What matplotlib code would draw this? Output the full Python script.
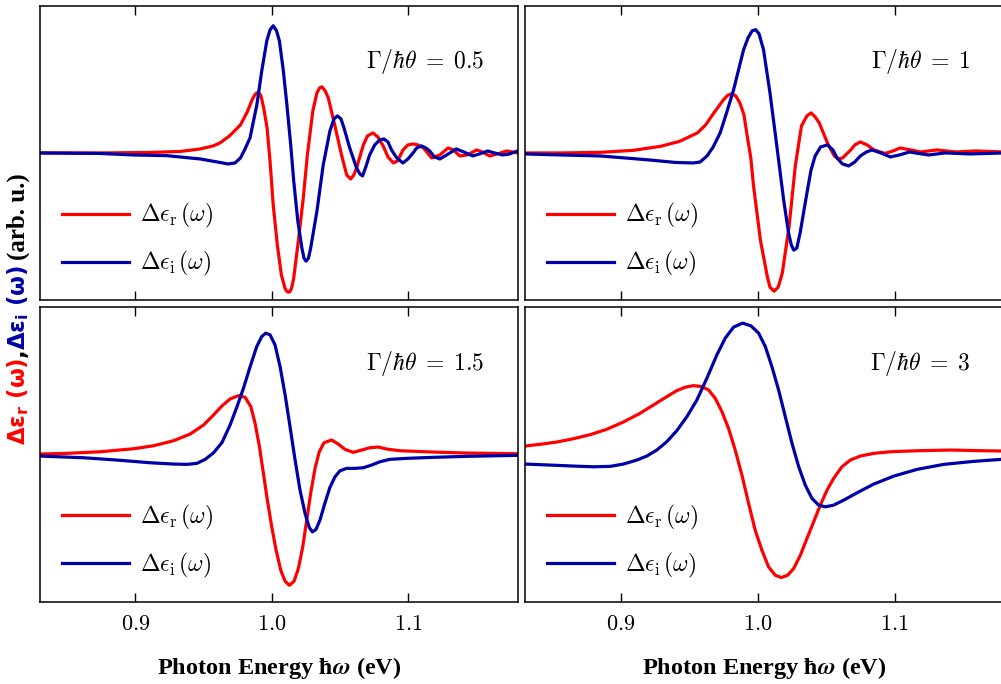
import matplotlib
matplotlib.use("Agg")
import matplotlib.pyplot as plt

plt.rcParams['mathtext.fontset'] = 'cm'

# ---- data (photon energy in eV, response in arb. units) ----
# panel 1: Gamma/hbar theta = 0.5
x_r1 = [0.830, 0.874, 0.911, 0.933, 0.9475, 0.957, 0.962, 0.969, 0.977, 0.982, 0.9855, 0.9875,
        0.989, 0.9905, 0.992, 0.994, 0.9965, 0.9987, 1.001, 1.004, 1.007, 1.0096, 1.0108, 1.012,
        1.0132, 1.0144, 1.016, 1.019, 1.023, 1.026, 1.030, 1.033, 1.035, 1.0367, 1.039, 1.0413,
        1.046, 1.051, 1.0548, 1.0577, 1.060, 1.062, 1.067, 1.070, 1.074, 1.0776, 1.0815, 1.085,
        1.089, 1.092, 1.096, 1.0996, 1.1034, 1.107, 1.111, 1.117, 1.123, 1.129, 1.133, 1.1376,
        1.143, 1.150, 1.154, 1.1595, 1.165, 1.172, 1.180]
y_r1 = [0.00, 0.00, 0.005, 0.015, 0.04, 0.07, 0.10, 0.17, 0.28, 0.41, 0.53, 0.58,
        0.60, 0.60, 0.57, 0.45, 0.25, -0.09, -0.52, -0.92, -1.22, -1.35, -1.38, -1.39,
        -1.385, -1.35, -1.25, -0.92, -0.45, -0.02, 0.42, 0.60, 0.65, 0.66, 0.62, 0.55,
        0.28, -0.02, -0.22, -0.26, -0.22, -0.15, 0.08, 0.17, 0.20, 0.16, 0.07, -0.04,
        -0.10, -0.08, 0.03, 0.08, 0.09, 0.08, 0.05, -0.05, -0.02, 0.05, 0.03, -0.03,
        -0.02, 0.03, 0.01, -0.03, -0.01, 0.02, 0.00]
x_i1 = [0.830, 0.874, 0.8985, 0.923, 0.9475, 0.960, 0.968, 0.973, 0.977, 0.980, 0.984, 0.989,
        0.9926, 0.9963, 0.9987, 1.001, 1.0034, 1.0055, 1.0084, 1.011, 1.0138, 1.016, 1.019,
        1.022, 1.0235, 1.025, 1.0268, 1.0284, 1.033, 1.0376, 1.0425, 1.0455, 1.048, 1.0506,
        1.0528, 1.057, 1.062, 1.0645, 1.0664, 1.069, 1.0716, 1.0753, 1.079, 1.082, 1.085,
        1.0876, 1.0915, 1.096, 1.0996, 1.1034, 1.106, 1.1096, 1.1127, 1.1156, 1.119, 1.123,
        1.128, 1.135, 1.1405, 1.147, 1.152, 1.158, 1.163, 1.169, 1.174, 1.180]
y_i1 = [0.00, -0.005, -0.02, -0.027, -0.06, -0.09, -0.11, -0.10, -0.05, 0.03, 0.15, 0.48,
        0.82, 1.12, 1.23, 1.27, 1.22, 1.12, 0.82, 0.48, 0.08, -0.28, -0.68,
        -0.95, -1.05, -1.08, -1.05, -0.95, -0.58, -0.12, 0.22, 0.34, 0.37, 0.34,
        0.25, 0.05, -0.15, -0.21, -0.23, -0.13, -0.02, 0.08, 0.13, 0.14, 0.11,
        0.03, -0.05, -0.10, -0.06, 0.00, 0.05, 0.07, 0.05, 0.02, -0.04, -0.06,
        -0.02, 0.04, 0.01, -0.03, -0.01, 0.02, 0.00, -0.02, -0.01, 0.02]

# panel 2: Gamma/hbar theta = 1
x_r2 = [0.830, 0.856, 0.885, 0.909, 0.929, 0.943, 0.956, 0.962, 0.968, 0.975, 0.978, 0.981,
        0.984, 0.987, 0.990, 0.992, 0.995, 0.997, 1.002, 1.007, 1.009, 1.012, 1.015, 1.018,
        1.023, 1.0275, 1.032, 1.036, 1.039, 1.042, 1.045, 1.051, 1.056, 1.059, 1.062, 1.068,
        1.071, 1.075, 1.080, 1.085, 1.093, 1.099, 1.104, 1.112, 1.119, 1.131, 1.145, 1.159, 1.180]
y_r2 = [0.00, 0.00, 0.006, 0.026, 0.066, 0.116, 0.20, 0.28, 0.40, 0.53, 0.575, 0.59,
        0.57, 0.50, 0.38, 0.20, -0.05, -0.33, -0.87, -1.23, -1.34, -1.38, -1.34, -1.20,
        -0.73, -0.13, 0.27, 0.37, 0.40, 0.36, 0.30, 0.10, -0.03, -0.06, -0.05, 0.03,
        0.08, 0.11, 0.08, 0.03, -0.005, 0.02, 0.05, 0.03, 0.01, 0.03, 0.01, 0.02, 0.01]
x_i2 = [0.830, 0.856, 0.885, 0.921, 0.940, 0.953, 0.958, 0.963, 0.9675, 0.9726, 0.9775, 0.9824,
        0.9897, 0.993, 0.996, 0.9986, 1.001, 1.0043, 1.009, 1.014, 1.019, 1.0226, 1.0246,
        1.0264, 1.0286, 1.031, 1.036, 1.039, 1.042, 1.046, 1.051, 1.055, 1.058, 1.062, 1.0665,
        1.071, 1.075, 1.0795, 1.0836, 1.090, 1.097, 1.1036, 1.111, 1.1175, 1.125, 1.137, 1.1555, 1.180]
y_i2 = [-0.01, -0.02, -0.03, -0.07, -0.095, -0.10, -0.09, -0.03, 0.06, 0.20, 0.41, 0.63,
        1.03, 1.15, 1.22, 1.23, 1.19, 1.03, 0.60, 0.07, -0.47, -0.80, -0.92,
        -0.97, -0.95, -0.80, -0.40, -0.17, -0.03, 0.06, 0.08, 0.03, -0.05, -0.11, -0.13,
        -0.09, -0.03, 0.01, 0.03, 0.00, -0.04, -0.02, 0.01, -0.005, -0.02, 0.00, -0.01, 0.00]

# panel 3: Gamma/hbar theta = 1.5
x_r3 = [0.8303, 0.850, 0.8744, 0.8988, 0.9134, 0.928, 0.9402, 0.950, 0.9573, 0.9634, 0.9694, 0.9755,
        0.9804, 0.9846, 0.9877, 0.9909, 0.9938, 0.9967, 0.9999, 1.0031, 1.0065, 1.0097, 1.0128, 1.0162,
        1.0194, 1.0226, 1.0255, 1.0284, 1.0316, 1.0347, 1.0382, 1.0438, 1.0486, 1.0535, 1.0596, 1.0657,
        1.0718, 1.0779, 1.084, 1.0937, 1.1181, 1.1424, 1.180]
y_r3 = [0.005, 0.012, 0.028, 0.058, 0.088, 0.138, 0.205, 0.295, 0.395, 0.485, 0.555, 0.588,
        0.572, 0.478, 0.312, 0.078, -0.188, -0.455, -0.722, -0.955, -1.155, -1.265, -1.305, -1.265,
        -1.138, -0.922, -0.655, -0.388, -0.138, 0.028, 0.118, 0.145, 0.105, 0.052, 0.022, 0.045,
        0.068, 0.075, 0.055, 0.038, 0.025, 0.015, 0.008]
x_i3 = [0.8303, 0.8622, 0.8866, 0.911, 0.928, 0.9378, 0.9451, 0.9512, 0.9573, 0.9634, 0.9694, 0.9743,
        0.9792, 0.9841, 0.9889, 0.9926, 0.9955, 0.9987, 1.0023, 1.006, 1.0097, 1.0133, 1.017, 1.0206,
        1.0243, 1.0274, 1.0296, 1.0323, 1.0352, 1.0389, 1.0425, 1.0462, 1.0499, 1.0547, 1.0608, 1.0669,
        1.073, 1.0791, 1.0864, 1.0986, 1.1181, 1.1424, 1.180]
y_i3 = [-0.015, -0.032, -0.055, -0.082, -0.095, -0.098, -0.088, -0.048, 0.018, 0.118, 0.295, 0.472,
        0.662, 0.878, 1.078, 1.178, 1.212, 1.195, 1.095, 0.878, 0.595, 0.278, -0.055, -0.355,
        -0.588, -0.728, -0.772, -0.748, -0.655, -0.482, -0.328, -0.222, -0.162, -0.138, -0.138, -0.132,
        -0.105, -0.072, -0.048, -0.038, -0.028, -0.018, -0.008]

# panel 4: Gamma/hbar theta = 3
x_r4 = [0.830, 0.841, 0.8532, 0.8654, 0.8775, 0.8897, 0.9019, 0.9141, 0.9239, 0.9336, 0.9409, 0.947,
        0.9531, 0.9592, 0.9641, 0.969, 0.9739, 0.9787, 0.9836, 0.9885, 0.9934, 0.9982, 1.0031, 1.008,
        1.0129, 1.0173, 1.0219, 1.0263, 1.0312, 1.036, 1.0409, 1.0458, 1.0507, 1.0555, 1.0616, 1.0677,
        1.075, 1.0848, 1.097, 1.1165, 1.1409, 1.1653, 1.180]
y_r4 = [0.085, 0.102, 0.125, 0.158, 0.198, 0.252, 0.325, 0.412, 0.495, 0.578, 0.638, 0.672,
        0.688, 0.678, 0.645, 0.562, 0.428, 0.262, 0.045, -0.205, -0.488, -0.755, -0.955, -1.122,
        -1.205, -1.228, -1.205, -1.138, -1.005, -0.838, -0.672, -0.505, -0.355, -0.238, -0.122, -0.055,
        -0.015, 0.012, 0.028, 0.038, 0.045, 0.038, 0.035]
x_i4 = [0.830, 0.8483, 0.8654, 0.880, 0.8922, 0.9019, 0.9117, 0.919, 0.9263, 0.9336, 0.9409, 0.9483,
        0.9556, 0.9629, 0.9702, 0.9763, 0.9824, 0.989, 0.9951, 1.0007, 1.0056, 1.0104, 1.0153, 1.0202,
        1.0251, 1.030, 1.0348, 1.0397, 1.0446, 1.0495, 1.0555, 1.0629, 1.0726, 1.0848, 1.0995, 1.1165,
        1.136, 1.158, 1.180]
y_i4 = [-0.095, -0.105, -0.115, -0.122, -0.118, -0.095, -0.055, -0.015, 0.045, 0.128, 0.238, 0.378,
        0.545, 0.762, 0.995, 1.162, 1.272, 1.312, 1.285, 1.212, 1.078, 0.878, 0.645, 0.378,
        0.112, -0.122, -0.305, -0.438, -0.505, -0.522, -0.505, -0.455, -0.382, -0.295, -0.215, -0.148,
        -0.098, -0.068, -0.046]

gamma_labels = ['0.5', '1', '1.5', '3']
panels = [(x_r1, y_r1, x_i1, y_i1), (x_r2, y_r2, x_i2, y_i2),
          (x_r3, y_r3, x_i3, y_i3), (x_r4, y_r4, x_i4, y_i4)]

RED = '#ff0000'
BLUE = '#0000a8'

fig = plt.figure(figsize=(10.01, 6.84), dpi=100)
W, H = 1001.0, 684.0
boxes = [(39.7, 5.7), (525.0, 5.7), (39.7, 307.3), (525.0, 307.3)]
aw, ah = 478.0, 294.5

for (xr, yr, xi, yi), g, (px, py) in zip(panels, gamma_labels, boxes):
    ax = fig.add_axes([px / W, 1 - (py + ah) / H, (aw + (1 if px > 500 else 0)) / W, ah / H])
    ax.plot(xr, yr, color=RED, lw=2.3, solid_joinstyle='round',
            label=r'$\Delta\epsilon_\mathrm{r}\,(\omega)$')
    ax.plot(xi, yi, color=BLUE, lw=2.3, solid_joinstyle='round',
            label=r'$\Delta\epsilon_\mathrm{i}\,(\omega)$')
    ax.set_xlim(0.83, 1.18)
    ax.set_ylim(-1.47, 1.47)
    ax.set_yticks([])
    ax.set_xticks([0.9, 1.0, 1.1])
    if py > 100:
        ax.set_xticklabels(['$0.9$', '$1.0$', '$1.1$'], fontsize=16)
    else:
        ax.set_xticklabels([])
    ax.tick_params(axis='x', direction='in', top=True, length=6.5, width=1.0, pad=9)
    for s in ax.spines.values():
        s.set_linewidth(1.1)
    ax.text(0.93, 0.81, r'$\Gamma/\hbar\theta\;=\;%s$' % g, transform=ax.transAxes,
            ha='right', va='center', fontsize=17)
    ax.legend(loc='center left', bbox_to_anchor=(0.046, 0.205), frameon=False,
              fontsize=17, handlelength=2.85, handletextpad=0.45, labelspacing=0.8,
              borderpad=0, borderaxespad=0)

# x labels
for cx in [(39.7 + aw / 2) / W, (525.0 + aw / 2) / W]:
    fig.text(cx, (H - 668) / H, r'Photon Energy $\boldsymbol{\hbar\omega}$ (eV)',
             ha='center', va='center', fontsize=17.5, fontweight='bold',
             family='Liberation Serif', math_fontfamily='stix')

# multi-coloured y label
bx = 25.0 / W
common = dict(rotation=90, rotation_mode='anchor', ha='center', va='baseline')
fig.text(bx, (H - 401.5) / H, r'$\mathbf{\Delta\epsilon_r\ (\omega)}$', color=RED,
         math_fontfamily='dejavusans', fontsize=16.5, **common)
fig.text(bx, (H - 353) / H, ',', color='black', fontweight='bold', fontsize=16.5, **common)
fig.text(bx, (H - 307) / H, r'$\mathbf{\Delta\epsilon_i\ (\omega)}$', color=BLUE,
         math_fontfamily='dejavusans', fontsize=16.5, **common)
fig.text(bx, (H - 216.5) / H, '(arb. u.)', color='black', fontweight='bold',
         family='Liberation Serif', fontsize=18, **common)

fig.savefig('out.png', dpi=100)
